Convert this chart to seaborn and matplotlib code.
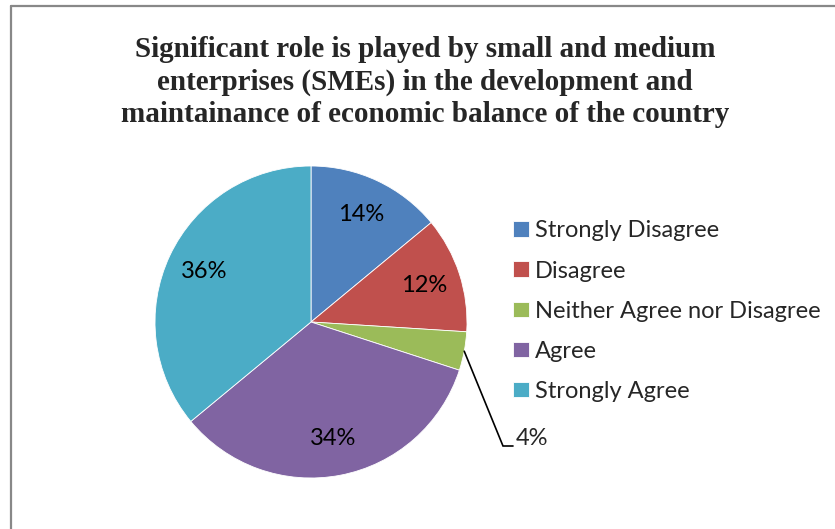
import matplotlib
matplotlib.use("Agg")
import matplotlib.pyplot as plt
import numpy as np
import seaborn as sns

sns.set_theme(style="white")

# Survey responses (% of respondents)
categories = ["Strongly Disagree", "Disagree", "Neither Agree nor Disagree",
              "Agree", "Strongly Agree"]
shares = [14, 12, 4, 34, 36]
colors = ["#4F81BD", "#C0504D", "#9BBB59", "#8064A2", "#4BACC6"]
title = ("Significant role is played by small and medium\n"
         "enterprises (SMEs) in the development and\n"
         "maintainance of economic balance of the country")

W, H = 835, 529
fig = plt.figure(figsize=(W / 100, H / 100), dpi=100)
fig.patch.set_facecolor("white")

# pie axes: centre (311, 322) px, radius 156 px
cx, cy, r = 311, 322, 156
ax = fig.add_axes([(cx - r) / W, (H - cy - r) / H, 2 * r / W, 2 * r / H])

label_font = "Lato"
fs = 17

wedges, texts, autotexts = ax.pie(
    shares, colors=colors, startangle=90, counterclock=False, radius=1,
    autopct=lambda p: f"{p:.0f}%", pctdistance=0.76,
    wedgeprops=dict(linewidth=0.6, edgecolor="white"),
    textprops=dict(fontsize=fs, family=label_font, color="black"),
)
ax.set_xlim(-1, 1)
ax.set_ylim(-1, 1)
ax.set_aspect("equal")
ax.axis("off")

# the small slice gets its label outside with a leader line
small = categories.index("Neither Agree nor Disagree")
autotexts[small].set_visible(False)
theta = np.deg2rad((wedges[small].theta1 + wedges[small].theta2) / 2)
x0, y0 = np.cos(theta), np.sin(theta)
x1, y1 = (503 - cx) / r, (cy - 446) / r
x2 = (513 - cx) / r
ax.plot([x0, x1, x2], [y0, y1, y1], color="black", lw=1.2,
        clip_on=False, solid_joinstyle="miter")
ax.text(x2 + 0.02, y1 - 0.02, f"{shares[small]}%", fontsize=fs,
        family=label_font, ha="left", va="bottom", clip_on=False)

fig.legend(wedges, categories, loc="upper left",
           bbox_to_anchor=(504 / W, 1 - 211 / H), frameon=False,
           prop=dict(family=label_font, size=fs),
           handlelength=0.64, handleheight=0.64, handletextpad=0.26,
           labelspacing=0.81, borderaxespad=0)

fig.text(425 / W, 1 - 82 / H, title, ha="center", va="center",
         family="Liberation Serif", fontweight="bold", fontsize=21,
         linespacing=1.25)

# chart frame (top and left edges visible)
fig.add_artist(plt.Line2D([10.5 / W, 10.5 / W], [0, 1 - 5.5 / H],
                          color="#888888", lw=1.6, transform=fig.transFigure))
fig.add_artist(plt.Line2D([10.5 / W, 1], [1 - 5.5 / H, 1 - 5.5 / H],
                          color="#888888", lw=1.6, transform=fig.transFigure))

fig.savefig("out.png", dpi=100, facecolor="white")
